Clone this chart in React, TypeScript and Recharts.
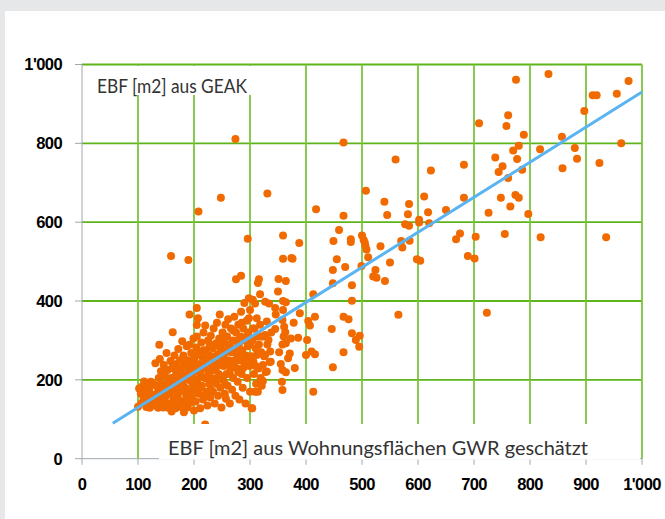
import { ScatterChart, Scatter, XAxis, YAxis, CartesianGrid } from 'recharts';

// EBF GWR (x) vs. EBF GEAK (y), in m2
const xTicks = [0, 100, 200, 300, 400, 500, 600, 700, 800, 900, 1000];
const yTicks = [0, 200, 400, 600, 800, 1000];
const gridX = [100, 200, 300, 400, 500, 600, 700, 800, 900, 1000];
const gridY = [200, 400, 600, 800, 1000];

// Regression line
const fitX = [55, 1000];
const fitY = [90, 930];

// dense cluster of small buildings
const clusterPoints: [number, number][] = [
  [102, 178], [105, 165], [108, 184], [110, 150], [112, 172], [114, 190], [116, 158], [118, 142], [120, 176],
  [123, 195], [125, 162], [127, 135], [129, 150], [100, 132], [121, 129], [136, 129],
  [106, 140], [111, 196], [115, 131], [119, 186], [124, 145], [128, 188], [132, 150], [134, 140], [138, 175],
  [131, 242], [133, 185], [135, 168], [137, 205], [138, 289], [139, 253], [140, 145], [141, 222], [142, 190],
  [144, 172], [145, 130], [146, 238], [148, 210], [149, 157], [150, 183], [151, 268], [152, 140], [153, 225],
  [155, 196], [156, 132], [157, 165], [158, 248], [159, 205], [160, 120], [160, 180], [154, 129], [175, 132],
  [143, 160], [147, 185], [149, 138], [153, 170], [157, 190], [158, 138],
  [161, 230], [162, 321], [163, 150], [164, 195], [165, 262], [166, 170], [167, 128], [168, 215], [169, 240],
  [170, 185], [171, 155], [172, 278], [173, 205], [174, 135], [175, 250], [176, 172], [177, 225], [179, 298],
  [179, 145], [180, 195], [181, 262], [182, 118], [183, 238], [184, 180], [185, 212], [186, 160], [187, 285],
  [188, 130], [189, 250], [190, 200], [191, 225], [192, 289], [192, 366], [193, 168], [194, 142], [195, 268],
  [196, 240], [197, 190], [198, 215], [199, 305], [200, 122], [200, 175],
  [162, 175], [165, 140], [168, 195], [172, 168], [174, 228], [178, 182], [182, 210], [185, 145], [188, 175],
  [192, 200], [196, 155], [199, 248],
  [201, 255], [202, 230], [203, 145], [204, 282], [205, 339], [205, 310], [205, 382], [206, 200], [207, 356],
  [208, 165], [209, 268], [210, 240], [211, 128], [212, 215], [213, 295], [214, 185], [215, 258], [216, 150],
  [217, 320], [218, 230], [219, 205], [220, 338], [220, 87], [221, 275], [222, 170], [223, 248], [224, 135],
  [225, 300], [226, 220], [227, 190], [228, 262], [229, 155], [230, 312], [231, 238], [232, 205], [233, 280],
  [234, 170], [235, 330], [236, 250], [237, 140], [238, 225], [239, 292], [240, 190], [241, 345], [242, 265],
  [243, 160], [244, 215], [245, 305], [246, 366], [246, 240], [247, 180], [248, 280], [249, 130], [250, 255],
  [203, 190], [206, 222], [208, 265], [211, 180], [214, 235], [217, 275], [219, 160], [222, 205], [225, 255],
  [228, 290], [230, 175], [233, 225], [236, 200], [239, 260], [242, 235], [244, 285], [247, 210], [250, 300],
  [251, 320], [252, 200], [253, 235], [254, 295], [255, 165], [256, 340], [257, 152], [257, 270], [258, 215],
  [259, 310], [260, 185], [261, 354], [262, 250], [263, 290], [264, 140], [265, 228], [266, 330], [267, 270],
  [268, 175], [269, 300], [270, 205], [271, 245], [272, 360], [273, 280], [274, 160], [275, 455], [275, 320],
  [276, 230], [277, 265], [278, 195], [279, 340], [280, 290], [281, 150], [282, 250], [283, 310], [284, 464],
  [284, 373], [285, 215], [286, 275], [287, 180], [288, 330], [289, 245], [290, 395], [291, 300], [292, 140],
  [293, 262], [294, 350], [295, 205], [296, 285], [297, 320], [298, 407], [298, 356], [299, 235], [300, 377],
  [300, 170], [304, 128],
  [253, 265], [255, 190], [258, 245], [261, 280], [264, 215], [267, 240], [270, 325], [273, 250], [276, 300],
  [279, 220], [282, 270], [285, 345], [288, 230], [291, 260], [294, 310], [297, 255], [300, 290],
  [302, 260], [303, 128], [304, 300], [305, 403], [306, 246], [307, 215], [308, 330], [309, 394], [309, 170],
  [310, 280], [311, 190], [312, 356], [312, 263], [313, 310], [314, 446], [314, 170], [315, 229], [316, 455],
  [316, 290], [318, 417], [318, 340], [319, 205], [320, 270], [321, 185], [323, 238], [323, 197], [324, 310],
  [325, 260], [327, 398], [327, 314], [327, 263], [328, 220], [330, 348], [330, 221], [331, 290], [333, 301],
  [334, 394], [335, 245], [336, 272], [337, 246], [338, 320], [305, 330], [310, 235], [315, 270], [320, 310],
  [345, 382], [346, 366], [345, 329], [350, 424], [351, 456], [352, 270], [355, 240], [357, 195], [358, 352],
  [358, 290], [358, 225], [358, 174], [359, 400], [359, 377], [360, 310], [361, 335], [363, 321], [364, 451],
  [364, 397], [364, 293], [364, 219], [368, 255], [371, 267], [373, 305], [378, 345], [380, 230],
];

// scattered points of larger buildings
const outerPoints: [number, number][] = [
  [274, 811], [248, 662], [331, 673], [208, 627], [296, 558], [359, 566], [388, 547], [159, 514], [190, 504],
  [359, 507], [374, 509], [376, 507],
  [386, 307], [389, 369], [402, 301], [400, 263], [404, 349], [407, 338], [410, 272], [413, 417], [413, 170],
  [416, 265], [416, 360], [418, 633],
  [446, 329], [448, 479], [448, 445], [448, 232], [449, 552], [455, 506], [459, 580], [467, 360], [467, 270],
  [467, 616], [467, 802], [470, 486], [476, 354], [480, 557], [480, 550], [482, 440], [482, 401], [482, 318],
  [489, 301], [495, 284], [496, 312], [499, 489], [500, 566], [503, 555], [506, 540], [508, 531], [505, 548],
  [507, 680], [511, 511], [520, 462], [524, 479], [526, 459], [533, 539], [540, 652], [541, 451], [545, 618],
  [550, 498], [560, 759], [565, 365],
  [570, 552], [572, 536], [577, 595], [582, 620], [584, 646], [584, 591], [585, 553], [598, 506], [602, 606],
  [602, 599], [604, 502], [611, 665], [618, 625], [620, 597], [623, 731],
  [650, 631], [668, 557], [675, 571], [682, 746], [682, 662], [689, 514], [701, 508], [703, 563], [709, 851],
  [723, 370], [726, 624], [738, 764], [744, 727], [748, 662], [751, 742], [755, 570],
  [758, 844], [761, 871], [761, 712], [765, 640], [770, 782], [774, 669], [775, 961], [777, 760], [780, 794],
  [780, 662], [786, 733], [789, 822], [797, 621], [818, 785], [819, 562], [833, 976], [857, 817], [858, 737],
  [880, 788], [884, 761], [897, 882], [912, 922], [919, 922], [924, 750], [936, 562], [955, 926], [963, 800],
  [976, 958],
];

const points = [...clusterPoints, ...outerPoints].map(([x, y]) => ({ x, y }));
const fitData = fitX.map((x, i) => ({ x, y: fitY[i] }));

const fmt = (v: number) => (v === 1000 ? "1'000" : String(v));
const tickFont = { fill: '#000', fontSize: 16.5, fontWeight: 700, fontFamily: 'Liberation Sans', letterSpacing: -0.6 };
const axisGray = '#9ea8ae';

export default function App() {
  return (
    <div style={{ position: 'absolute', left: 0, top: 0, width: 665, height: 519, background: '#e6e7e9', overflow: 'hidden' }}>
      <div style={{ position: 'absolute', left: 5, top: 11, right: 0, bottom: 0, background: '#fff' }} />
      <div style={{ position: 'absolute', left: 0, top: 0 }}>
        <ScatterChart width={665} height={519} margin={{ top: 64.5, right: 23, left: 22, bottom: 20.3 }}>
          <CartesianGrid vertical={false} horizontalValues={gridY} stroke="#5fb41c" strokeWidth={1.8} />
          <CartesianGrid horizontal={false} verticalValues={gridX} stroke="#7cc53a" strokeWidth={1.8} />
          <XAxis
            type="number"
            dataKey="x"
            domain={[0, 1000]}
            ticks={xTicks}
            interval={0}
            tickFormatter={fmt}
            height={40}
            tickSize={6}
            tickMargin={14}
            tick={tickFont}
            stroke={axisGray}
          />
          <YAxis
            type="number"
            dataKey="y"
            domain={[0, 1000]}
            ticks={yTicks}
            interval={0}
            tickFormatter={fmt}
            width={60}
            tickSize={7}
            tickMargin={13}
            tick={tickFont}
            stroke={axisGray}
          />
          <Scatter
            data={points}
            isAnimationActive={false}
            shape={(p: any) => <circle cx={p.cx} cy={p.cy} r={4} fill="#f06a00" />}
          />
          <Scatter
            data={fitData}
            isAnimationActive={false}
            line={{ stroke: '#5ab4f2', strokeWidth: 3 }}
            shape={() => <g />}
          />
        </ScatterChart>
      </div>
      {/* axis titles sit in white boxes over the grid */}
      <svg width={665} height={519} style={{ position: 'absolute', left: 0, top: 0, pointerEvents: 'none' }}>
        <rect x={83} y={66} width={190} height={29} fill="#fff" />
        <text x={97} y={93} fill="#333" fontSize={18.5} fontFamily="Lato" textLength={150} lengthAdjust="spacingAndGlyphs">EBF [m2] aus GEAK</text>
        <rect x={159} y={424} width={481} height={35.5} fill="#fff" />
        <text x={168} y={455} fill="#333" fontSize={18.5} fontFamily="Lato" textLength={420} lengthAdjust="spacingAndGlyphs">EBF [m2] aus Wohnungsflächen GWR geschätzt</text>
      </svg>
    </div>
  );
}
